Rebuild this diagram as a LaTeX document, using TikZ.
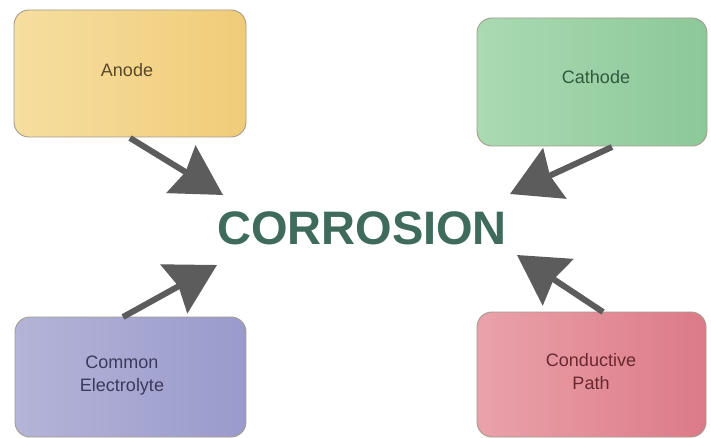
\documentclass[tikz,border=0pt]{standalone}
\usepackage{fontspec}
\setmainfont{Liberation Sans}
\usetikzlibrary{arrows.meta}
\definecolor{bordergray}{HTML}{A39C8E}
\definecolor{arrowgray}{HTML}{5C5C5C}
\definecolor{titlegreen}{HTML}{3E6B5B}
\begin{document}
\begin{tikzpicture}[x=1pt,y=-1pt,
  box/.style={draw=bordergray, line width=0.9pt, rounded corners=15pt, inner sep=0pt},
  boxtext/.style={font=\fontsize{18}{23}\selectfont, align=center, inner sep=0pt},
  bigarrow/.style={draw=arrowgray, line width=6pt,
    -{Stealth[length=49pt,width=55pt,inset=5pt]}}]
\useasboundingbox[fill=white] (0,0) rectangle (711,438);
% boxes
\node[box, minimum width=232pt, minimum height=127pt,
  left color={rgb,255:red,246;green,222;blue,160}, right color={rgb,255:red,240;green,204;blue,120}]
  (anode) at (130,73.5) {};
\node[box, minimum width=230pt, minimum height=128pt,
  left color={rgb,255:red,170;green,218;blue,178}, right color={rgb,255:red,140;green,200;blue,152}]
  (cathode) at (592,82) {};
\node[box, minimum width=231pt, minimum height=120pt,
  left color={rgb,255:red,180;green,180;blue,216}, right color={rgb,255:red,154;green,154;blue,204}]
  (electrolyte) at (130.5,377) {};
\node[box, minimum width=229pt, minimum height=125pt,
  left color={rgb,255:red,234;green,162;blue,170}, right color={rgb,255:red,220;green,122;blue,136}]
  (path) at (591.5,374.5) {};
% texts
\node[boxtext, text={rgb,255:red,90;green,72;blue,44}] (tanode) at (127,70) {Anode};
\node[boxtext, text={rgb,255:red,46;green,90;blue,62}] (tcathode) at (596,77) {Cathode};
\node[boxtext, text={rgb,255:red,58;green,58;blue,92}] (telectrolyte) at (122,376) {Common\\Electrolyte};
\node[boxtext, text={rgb,255:red,104;green,40;blue,48}] (tpath) at (591,372) {Conductive\\Path};
\node[font=\fontsize{47}{50}\selectfont\bfseries, text=titlegreen, inner sep=0pt] (corrosion) at (362,228) {CORROSION};
% arrow ends
\coordinate (a1) at (130,138); \coordinate (a2) at (223,195);
\coordinate (c1) at (612,147); \coordinate (c2) at (510,194);
\coordinate (e1) at (123,317); \coordinate (e2) at (217,265);
\coordinate (p1) at (603,312); \coordinate (p2) at (517,255);
\draw[bigarrow] (a1) -- (a2);
\draw[bigarrow] (c1) -- (c2);
\draw[bigarrow] (e1) -- (e2);
\draw[bigarrow] (p1) -- (p2);
\end{tikzpicture}
\end{document}
